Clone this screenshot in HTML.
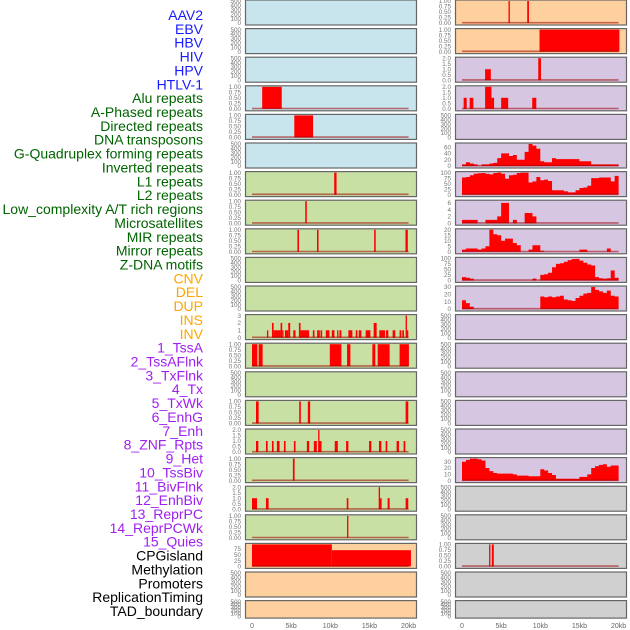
<!DOCTYPE html>
<html><head><meta charset="utf-8">
<style>
html,body{margin:0;padding:0;background:#fff;}
body{width:630px;height:630px;overflow:hidden;position:relative;font-family:"Liberation Sans",sans-serif;}
svg{position:absolute;left:0;top:0;}
</style></head>
<body>
<svg id="chart" width="630" height="630" viewBox="0 0 630 630"></svg>
<script>
// ---- track labels ----
const labelNames = ["AAV2","EBV","HBV","HIV","HPV","HTLV-1","Alu repeats","A-Phased repeats","Directed repeats","DNA transposons","G-Quadruplex forming repeats","Inverted repeats","L1 repeats","L2 repeats","Low_complexity A/T rich regions","Microsatellites","MIR repeats","Mirror repeats","Z-DNA motifs","CNV","DEL","DUP","INS","INV","1_TssA","2_TssAFlnk","3_TxFlnk","4_Tx","5_TxWk","6_EnhG","7_Enh","8_ZNF_Rpts","9_Het","10_TssBiv","11_BivFlnk","12_EnhBiv","13_ReprPC","14_ReprPCWk","15_Quies","CPGisland","Methylation","Promoters","ReplicationTiming","TAD_boundary"];
const labelGroups = ["v","v","v","v","v","v","r","r","r","r","r","r","r","r","r","r","r","r","r","s","s","s","s","s","c","c","c","c","c","c","c","c","c","c","c","c","c","c","c","k","k","k","k","k"];
// ---- panel colours per row (left col, right col) ----
const leftBg  = ["b","b","b","b","b","b","g","g","g","g","g","g","g","g","g","g","g","g","g","o","o","o"];
const rightBg = ["o","o","p","p","p","p","p","p","p","p","p","p","p","p","p","p","p","k","k","k","k","k"];
// ---- y max per panel (0 = empty 0..500 axis) ----
const leftMax  = [0,0,0,1,1,0,1,1,1,0,0,3,1,0,1,2,1,2,1,95,0,0];
const rightMax = [1,1,2,2,0,70,100,6.5,20,100,30,0,0,0,0,0,35,0,0,1,0,0];
// ---- segment data [startKb, endKb, value] ----
const leftSegs = {
 3:[[1.3,3.8,1]],
 4:[[5.4,7.8,1]],
 6:[[10.5,10.8,1]],
 7:[[6.8,7.0,1]],
 8:[[5.8,6.0,1],[8.3,8.5,1],[15.6,15.8,1],[19.6,19.9,1]],
 11:[[1.91,2.08,1],[2.55,2.76,2],[2.76,3.01,1],[3.01,3.44,1],[3.44,3.65,1],[3.65,3.86,2],[3.86,4.03,1],[4.2,4.63,1],[4.63,4.88,2],[5.27,5.56,1],[5.99,6.2,2],[6.2,7.3,1],[7.77,7.98,1],[8.32,8.66,1],[8.75,8.96,1],[9.43,9.89,1],[10.19,10.53,1],[10.87,11.04,1],[11.17,11.42,1],[12.31,12.82,1],[13.25,13.46,1],[13.63,13.97,1],[14.52,15.12,1],[15.54,15.92,2],[16.26,16.99,1],[17.11,17.41,1],[17.96,18.3,1],[18.85,19.07,1],[19.19,19.41,1],[19.62,19.79,3],[19.79,19.96,1]],
 12:[[0,0.68,1],[0.85,1.36,1],[9.94,11.42,1],[12.14,12.57,1],[15.37,15.75,1],[16.05,17.58,1],[18.85,20.04,1]],
 14:[[0.51,0.85,1],[6.03,6.24,1],[7.13,7.43,1],[19.62,19.96,1]],
 15:[[0.51,0.81,1],[1.78,2.0,1],[2.55,2.76,1],[3.18,3.52,1],[4.08,4.29,1],[5.35,5.56,1],[7.01,7.3,1],[7.9,8.28,1],[8.45,8.62,2],[8.62,8.88,1],[10.57,10.96,1],[12.02,12.31,1],[14.95,15.24,1],[16.22,16.52,1],[17.07,17.28,1],[18.47,18.77,1],[19.36,19.58,1]],
 16:[[5.22,5.44,1]],
 17:[[0,0.64,1],[1.78,2.12,1],[12.1,12.31,1],[16.18,16.35,2],[16.35,16.56,1],[17.32,17.58,1],[19.62,19.96,1]],
 18:[[12.14,12.31,1]],
 19:[[0,10.2,95],[10.2,20.3,70]]
};
const rightSegs = {
 0:[[5.94,6.11,1],[8.33,8.55,1]],
 1:[[9.9,20.1,1]],
 2:[[2.95,3.68,1],[9.74,10.09,2]],
 3:[[0.21,0.6,1],[0.98,1.45,1],[2.95,3.76,2],[3.76,4.1,1],[5.0,5.9,1],[8.97,9.49,1]],
 19:[[3.46,3.63,1],[3.81,4.06,1]]
};
// ---- binned profiles (0.5kb bins, 0..20kb) ----
const binG4 = [5,12,8,5,0,5,5,8,10,25,40,40,32,35,20,20,45,70,65,55,15,12,12,25,22,22,22,22,22,22,15,15,15,5,5,5,5,5,5,5];
const binL1 = [78,80,88,95,97,98,95,92,98,100,95,72,88,90,98,100,100,55,60,80,65,68,62,20,20,20,15,10,10,20,30,32,40,75,75,78,78,78,60,85];
const binR7 = [1,1,1,1,0,0,1,1,1,2,6,6,0,1,0,0,3,3,2,0,0,0,0,0,0,0,0,0,0,0,0,0,0,0,0,0,0,0,0,0];
const binR8 = [2,3,3,3,2,3,5,20,16,15,10,12,12,8,6,0,0,2,6,6,1,0,0,0,0,0,0,0,0,0,2,2,0,0,0,0,0,3,0,0];
const binR9 = [15,12,8,0,0,0,0,0,0,0,0,0,0,0,0,0,0,0,8,0,25,28,35,60,75,78,85,92,97,98,90,80,72,68,15,10,8,10,45,12];
const binR10 = [12,8,3,0,0,0,0,0,0,0,0,0,0,0,0,0,0,0,0,0,17,16,17,16,17,18,13,12,11,15,18,21,22,30,26,24,22,25,18,17];
const binR16 = [30,33,35,35,34,32,20,15,12,11,11,11,11,10,8,8,8,7,7,7,18,16,12,9,3,3,3,3,3,3,6,6,10,20,23,25,26,22,24,24];
const rightBins = {5:binG4,6:binL1,7:binR7,8:binR8,9:binR9,10:binR10,16:binR16};
// ---- ticks ----
const tickSets = {1:[0,0.25,0.5,0.75,1],2:[0,0.5,1,1.5,2],3:[0,1,2,3],6.5:[0,2,4,6],20:[0,5,10,15,20],30:[0,10,20,30],35:[0,10,20,30],70:[0,20,40,60],95:[0,25,50,75],100:[0,25,50,75,100],0:[0,100,200,300,400,500]};
const xTicks = [0,5,10,15,20];
const xTickLabels = ["0","5kb","10kb","15kb","20kb"];

const NS="http://www.w3.org/2000/svg";
const svg=document.getElementById('chart');
function mk(tag,attrs,parent){const e=document.createElementNS(NS,tag);for(const k in attrs)e.setAttribute(k,attrs[k]);(parent||svg).appendChild(e);return e;}
const bgColors={b:"#c8e4ec",g:"#c8e0a4",o:"#fed09e",p:"#d6c6e2",k:"#d0d0d0"};
const txtColors={v:"#1a1aff",r:"#006400",s:"#ffa500",c:"#a020f0",k:"#000"};
const colX=[245,455];
const panelW=171;
function xScale(col,kb){return colX[col]+7+kb*7.83;}
function rowTop(i){return i*28.6-0.5;}
function rowH(i){return i===21?17.5:25;}

// labels
for(let i=0;i<labelNames.length;i++){
  const t=mk('text',{x:203,y:15+i*(596/ (labelNames.length-1))+5,'text-anchor':'end','font-size':'14',fill:txtColors[labelGroups[i]],'font-family':'"Liberation Sans",sans-serif'});
  
  
  t.textContent=labelNames[i];
}

function drawPanel(col,row){
  const top=rowTop(row),h=rowH(row),x0=colX[col];
  const bgKey=(col===0?leftBg:rightBg)[row];
  const ymax=(col===0?leftMax:rightMax)[row];
  const g=mk('g',{});
  
  
  const r=mk('rect',{x:x0+0.5,y:top+0.5,width:panelW,height:h,fill:bgColors[bgKey],stroke:'#666','stroke-width':1.2},g);
  
  
  const yb=top+h-1.5, yt=top+1.5;
  const vmax=ymax===0?500:ymax;
  const ys=v=>yb-(v/vmax)*(yb-yt);
  const ticks=tickSets[ymax]||[0,ymax];
  ticks.forEach(v=>{
    const t=mk('text',{x:x0-4,y:ys(v)+2.2,'text-anchor':'end','font-size':'6.3',fill:'#777'},g);
    
    
    t.textContent=(ymax===1?v.toFixed(2):(ymax===2?v.toFixed(1):String(v)));
  });
  if(ymax===0) return;
  const segs=(col===0?leftSegs:rightSegs)[row]||[];
  segs.forEach(s=>{
    const b=mk('rect',{x:xScale(col,s[0]),y:ys(s[2]),width:Math.max(1.2,xScale(col,s[1])-xScale(col,s[0])),height:yb-ys(s[2]),fill:'#ff0000'},g);
    
    
  });
  const bins=col===1?rightBins[row]:null;
  if(bins){
    let d='M'+xScale(col,0)+','+yb;
    bins.forEach((v,i)=>{d+=' L'+xScale(col,i*0.5)+','+ys(v)+' L'+xScale(col,i*0.5+0.5)+','+ys(v);});
    d+=' L'+xScale(col,bins.length*0.5)+','+yb+' Z';
    const p=mk('path',{d:d,fill:'#ff0000'},g);
    
    
  }
  const bl=mk('line',{x1:xScale(col,0),x2:xScale(col,20),y1:yb-0.3,y2:yb-0.3,stroke:'rgba(160,0,0,0.55)','stroke-width':1.6},g);
  
  
}
for(let c=0;c<2;c++)for(let r=0;r<22;r++)drawPanel(c,r);

for(let c=0;c<2;c++){
  xTicks.forEach((v,i)=>{
    const t=mk('text',{x:xScale(c,v),y:628,'text-anchor':'middle','font-size':'7',fill:'#666'});
    
    
    t.textContent=xTickLabels[i];
  });
}
</script>
</body></html>
